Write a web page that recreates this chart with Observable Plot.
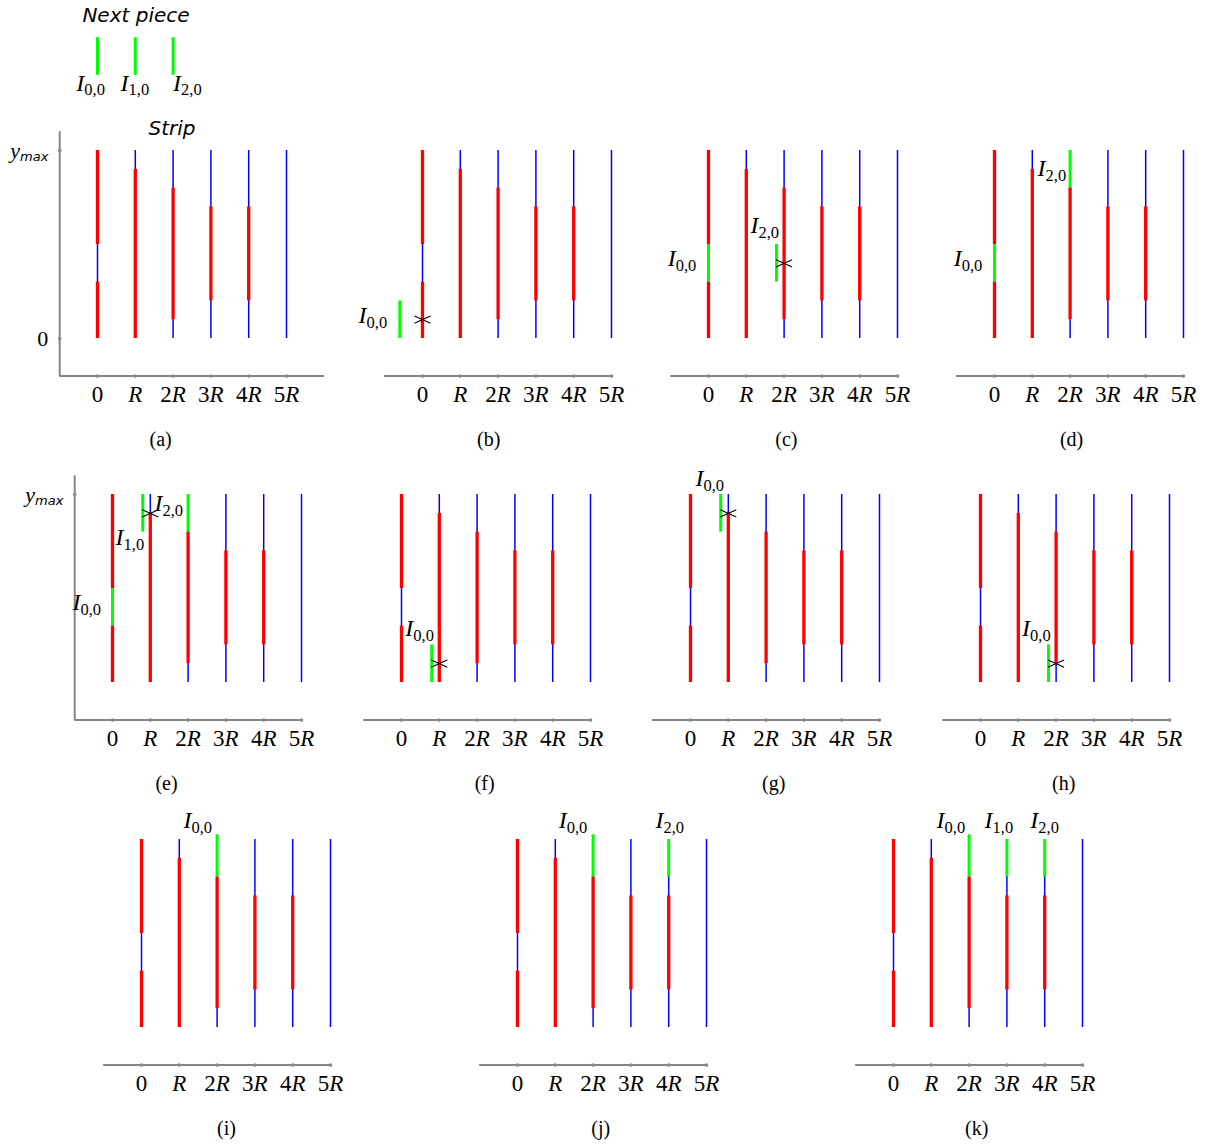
<!DOCTYPE html>
<html>
<head>
<meta charset="utf-8">
<script src="https://cdn.jsdelivr.net/npm/d3@7"></script>
<script src="https://cdn.jsdelivr.net/npm/@observablehq/plot@0.6"></script>
<style>
  html, body { margin: 0; padding: 0; background: #fff; }
  #fig { position: relative; width: 1218px; height: 1144px; overflow: hidden; background: #fff; }
</style>
</head>
<body>
<div id="fig"></div>
<script>
// ---------- data ----------
const panels = ["a","b","c","d","e","f","g","h","i","j","k"];
const captionX = [1.67, 1.75, 2.06, 2.04, 1.43, 2.2, 2.2, 2.2, 2.25, 2.2, 2.2];

const columns = [0, 1, 2, 3, 4, 5];
const tickLabels = ["0", "R", "2R", "3R", "4R", "5R"];

// occupied (red) parts of the strip, same in every panel
const stripRedCol  = [0, 0, 1, 2, 3, 4];
const stripRedFrom = [0, 5, 0, 1, 2, 2];
const stripRedTo   = [3, 10, 9, 8, 7, 7];

// green pieces
const piecePanel = ["a","a","a","b","c","c","d","d","e","e","e","f","g","h","i","j","j","k","k","k"];
const pieceX     = [0, 1, 2, -0.6, 0, 1.8, 0, 2, 0, 0.8, 2, 0.8, 0.8, 1.8, 2, 2, 4, 2, 3, 4];
const pieceFrom  = [14, 14, 14, 0, 3, 3, 3, 8, 3, 8, 8, 0, 8, 0, 8, 8, 8, 8, 8, 8];
const pieceTo    = [16, 16, 16, 2, 5, 5, 5, 10, 5, 10, 10, 2, 10, 2, 10.25, 10.25, 10, 10.25, 10, 10];

// collision marks
const crossPanel = ["b","c","e","f","g","h"];
const crossX     = [0, 2, 1, 1, 1, 2];
const crossY     = [1, 4, 9, 1, 9, 1];

// piece labels
const labelPanel = ["a","a","a","b","c","c","d","d","e","e","e","f","g","h","i","j","j","k","k","k"];
const labelX = [-0.56, 0.61, 2.0, -1.69, -1.08, 1.11, -1.08, 1.14, -1.06, 0.08, 1.11, 0.1, 0.13, 1.1, 1.11, 1.09, 3.65, 1.14, 2.41, 3.62];
const labelY = [13.6, 13.6, 13.6, 1.25, 4.25, 6.0, 4.25, 9.05, 4.25, 7.7, 9.55, 2.9, 10.85, 2.9, 11.0, 11.0, 11.0, 11.0, 11.0, 11.0];
const labelText = ["I0,0","I1,0","I2,0","I0,0","I0,0","I2,0","I0,0","I2,0","I0,0","I1,0","I2,0","I0,0","I0,0","I0,0","I0,0","I0,0","I2,0","I0,0","I1,0","I2,0"];

// headings (panel a)
const headingText = ["Next piece", "Strip"];
const headingX = [-0.4, 1.35];
const headingY = [17.2, 11.17];

// y-axis labels (panels a and e)
const yLabelPanel = ["a", "a", "e"];
const yLabelValue = [10, 0, 10];
const yLabelText  = ["ymax", "0", "ymax"];

// ---------- layout ----------
const originX = [97, 422, 708, 994, 112, 401, 690, 980, 141, 517, 893];
const originY = [338, 338, 338, 338, 682, 682, 682, 682, 1027, 1027, 1027];
const PX_R = 37.8, PX_U = 18.8;
const OX = 110, OY = 345, W = 340, H = 470;

const crossSymbol = {
  draw(ctx) {
    ctx.moveTo(-8, -3.6); ctx.lineTo(8, 3.6);
    ctx.moveTo(-8, 3.6); ctx.lineTo(8, -3.6);
  }
};

const SERIF = "'Liberation Serif', 'Times New Roman', serif";
const SANS = "'DejaVu Sans', sans-serif";

function richify(svg) {
  d3.select(svg).selectAll("text").each(function () {
    const t = this.textContent;
    const sel = d3.select(this);
    let m;
    if ((m = /^(\d?)R$/.exec(t))) {
      sel.text(null);
      if (m[1]) sel.append("tspan").text(m[1]);
      sel.append("tspan").attr("font-style", "italic").text("R");
    } else if ((m = /^I(\d,\d)$/.exec(t))) {
      sel.text(null);
      sel.append("tspan").attr("font-style", "italic").text("I");
      sel.append("tspan").attr("font-size", "16.5px").attr("dy", "0.3em").text(m[1]);
    } else if (t === "ymax") {
      sel.text(null);
      sel.append("tspan").attr("font-style", "italic").attr("font-size", "22px").text("y");
      sel.append("tspan").attr("font-style", "italic").attr("font-family", SANS)
        .attr("font-size", "13px").attr("dy", "0.3em").text("max");
    }
  });
}

const fig = document.getElementById("fig");

panels.forEach((p, i) => {
  const reds = stripRedCol.map((c, j) => ({x: c, y1: stripRedFrom[j], y2: stripRedTo[j]}));
  const pieces = [], crosses = [], labels = [], ylabels = [];
  piecePanel.forEach((q, j) => { if (q === p) pieces.push({x: pieceX[j], y1: pieceFrom[j], y2: pieceTo[j]}); });
  crossPanel.forEach((q, j) => { if (q === p) crosses.push({x: crossX[j], y: crossY[j]}); });
  labelPanel.forEach((q, j) => { if (q === p) labels.push({x: labelX[j], y: labelY[j], t: labelText[j]}); });
  yLabelPanel.forEach((q, j) => { if (q === p) ylabels.push({y: yLabelValue[j], t: yLabelText[j]}); });
  const hasYAxis = p === "a" || p === "e";
  const axisEnd = p === "a" ? 6 : 5;
  const headings = p === "a" ? headingText.map((t, j) => ({t, x: headingX[j], y: headingY[j]})) : [];

  const svg = Plot.plot({
    width: W, height: H,
    x: {domain: [0, 5], range: [OX, OX + 5 * PX_R], axis: null},
    y: {domain: [0, 10], range: [OY, OY - 10 * PX_U], axis: null},
    style: {background: "transparent", overflow: "visible", fontFamily: SERIF},
    marks: [
      Plot.ruleY([-2], {x1: () => -1, x2: () => axisEnd, stroke: "#858585", strokeWidth: 2}),
      hasYAxis ? Plot.ruleX([-1], {y1: () => -2, y2: () => 11, stroke: "#858585", strokeWidth: 2}) : null,
      Plot.dot(columns, {x: d => d, y: () => -2, r: 1.8, fill: "#8a8a8a", stroke: null}),
      hasYAxis ? Plot.dot(ylabels, {x: () => -1, y: "y", r: 1.8, fill: "#8a8a8a", stroke: null}) : null,
      Plot.text(tickLabels, {x: (d, j) => columns[j], y: () => -3, text: d => d, fontSize: 23, fontFamily: SERIF, fill: "black"}),
      Plot.text(ylabels, {x: () => -1.3, y: "y", text: "t", textAnchor: "end", fontSize: 22, fontFamily: SERIF, fill: "black"}),
      Plot.ruleX(columns, {x: d => d, y1: () => 0, y2: () => 10, stroke: "#0000ff", strokeWidth: 1.5}),
      Plot.ruleX(reds, {x: "x", y1: "y1", y2: "y2", stroke: "#ff0000", strokeWidth: 3.3}),
      Plot.ruleX(pieces, {x: "x", y1: "y1", y2: "y2", stroke: "#00ff00", strokeWidth: 3}),
      Plot.dot(crosses, {x: "x", y: "y", symbol: crossSymbol, stroke: "black", fill: "none", strokeWidth: 1.1}),
      Plot.text(labels, {x: "x", y: "y", text: "t", textAnchor: "start", fontSize: 24, fontFamily: SERIF, fill: "black"}),
      Plot.text(headings, {x: "x", y: "y", text: "t", textAnchor: "start", fontSize: 20, fontFamily: SANS, fontStyle: "italic", fill: "black"}),
      Plot.text([`(${p})`], {x: () => captionX[i], y: () => -5.4, text: d => d, fontSize: 20, fontFamily: SERIF, fill: "black"})
    ]
  });
  richify(svg);
  svg.style.position = "absolute";
  svg.style.left = (originX[i] - OX) + "px";
  svg.style.top = (originY[i] - OY) + "px";
  svg.style.maxWidth = "none";
  fig.appendChild(svg);
});
</script>
</body>
</html>
